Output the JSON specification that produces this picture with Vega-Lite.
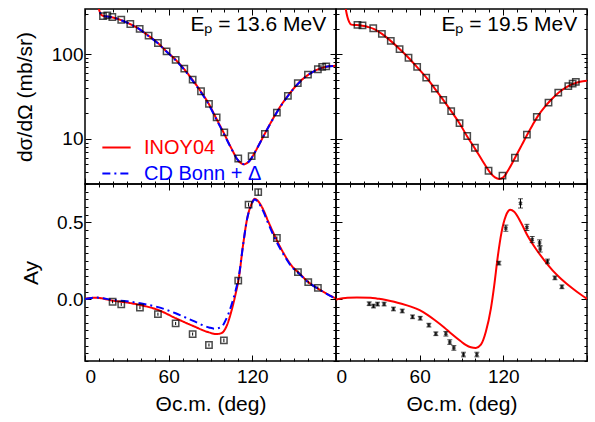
{
  "$schema": "https://vega.github.io/schema/vega-lite/v6.json",
  "padding": {"left": 13, "top": 7, "right": 2, "bottom": 5},
  "background": "white",
  "datasets": {
    "labels": [{"p":"TL","label":"Eₚ = 13.6 MeV"},{"p":"TR","label":"Eₚ = 19.5 MeV"}],
    "pts": [
      {"p":"TL","t":12.9,"v":283},{"p":"TL","t":16.0,"v":288},{"p":"TL","t":19.6,"v":276},{"p":"TL","t":26.0,"v":256},{"p":"TL","t":32.5,"v":228},{"p":"TL","t":39.2,"v":200},{"p":"TL","t":45.6,"v":166},{"p":"TL","t":52.3,"v":136},{"p":"TL","t":58.5,"v":108},{"p":"TL","t":65.0,"v":86},{"p":"TL","t":71.2,"v":67.6},{"p":"TL","t":77.2,"v":50},{"p":"TL","t":83.2,"v":36.5},{"p":"TL","t":88.9,"v":25.9},{"p":"TL","t":94.4,"v":17.9},{"p":"TL","t":99.9,"v":11.9},{"p":"TL","t":109.9,"v":5.85},{"p":"TL","t":119.5,"v":6.25},{"p":"TL","t":129.0,"v":11.4},{"p":"TL","t":137.6,"v":20.4},{"p":"TL","t":145.5,"v":32.2},{"p":"TL","t":152.6,"v":45.5},{"p":"TL","t":159.9,"v":57.5},{"p":"TL","t":167.0,"v":66.5},{"p":"TL","t":170.1,"v":70.8},{"p":"TL","t":173.0,"v":72},
      {"p":"TR","t":15.4,"v":223},{"p":"TR","t":19.0,"v":220},{"p":"TR","t":26.7,"v":203},{"p":"TR","t":32.9,"v":174},{"p":"TR","t":39.3,"v":144},{"p":"TR","t":45.6,"v":115},{"p":"TR","t":52.0,"v":91},{"p":"TR","t":58.2,"v":70.8},{"p":"TR","t":64.7,"v":53},{"p":"TR","t":70.9,"v":39.3},{"p":"TR","t":76.9,"v":28.9},{"p":"TR","t":82.6,"v":21.2},{"p":"TR","t":88.6,"v":15.3},{"p":"TR","t":94.1,"v":10.8},{"p":"TR","t":99.6,"v":7.83},{"p":"TR","t":109.4,"v":4.19},{"p":"TR","t":119.4,"v":3.66},{"p":"TR","t":128.3,"v":5.97},{"p":"TR","t":136.9,"v":11.2},{"p":"TR","t":144.0,"v":18.2},{"p":"TR","t":152.4,"v":26.8},{"p":"TR","t":159.4,"v":35.2},{"p":"TR","t":166.6,"v":41.9},{"p":"TR","t":169.7,"v":45},{"p":"TR","t":172.0,"v":47.1},
      {"p":"BL","t":19.8,"v":-0.015,"lo":-0.025,"hi":-0.005},{"p":"BL","t":26.0,"v":-0.032,"lo":-0.042,"hi":-0.022},{"p":"BL","t":39.4,"v":-0.053,"lo":-0.063,"hi":-0.043},{"p":"BL","t":52.3,"v":-0.096,"lo":-0.106,"hi":-0.086},{"p":"BL","t":65.0,"v":-0.156,"lo":-0.166,"hi":-0.146},{"p":"BL","t":77.2,"v":-0.225,"lo":-0.235,"hi":-0.215},{"p":"BL","t":88.9,"v":-0.296,"lo":-0.306,"hi":-0.286},{"p":"BL","t":99.6,"v":-0.266,"lo":-0.278,"hi":-0.254},{"p":"BL","t":109.9,"v":0.122,"lo":0.107,"hi":0.137},{"p":"BL","t":117.3,"v":0.616,"lo":0.603,"hi":0.629},{"p":"BL","t":124.2,"v":0.697,"lo":0.677,"hi":0.717},{"p":"BL","t":137.6,"v":0.399,"lo":0.389,"hi":0.409},{"p":"BL","t":152.7,"v":0.178,"lo":0.168,"hi":0.188},{"p":"BL","t":160.1,"v":0.112,"lo":0.102,"hi":0.122},{"p":"BL","t":167.0,"v":0.075,"lo":0.065,"hi":0.085},
      {"p":"BR","t":23.8,"v":-0.028,"lo":-0.040,"hi":-0.016},{"p":"BR","t":26.9,"v":-0.043,"lo":-0.055,"hi":-0.031},{"p":"BR","t":29.8,"v":-0.030,"lo":-0.042,"hi":-0.018},{"p":"BR","t":34.5,"v":-0.030,"lo":-0.042,"hi":-0.018},{"p":"BR","t":41.2,"v":-0.062,"lo":-0.074,"hi":-0.050},{"p":"BR","t":47.5,"v":-0.075,"lo":-0.087,"hi":-0.063},{"p":"BR","t":54.9,"v":-0.113,"lo":-0.125,"hi":-0.101},{"p":"BR","t":60.4,"v":-0.122,"lo":-0.134,"hi":-0.110},{"p":"BR","t":66.6,"v":-0.167,"lo":-0.179,"hi":-0.155},{"p":"BR","t":71.6,"v":-0.223,"lo":-0.235,"hi":-0.211},{"p":"BR","t":78.8,"v":-0.223,"lo":-0.238,"hi":-0.208},{"p":"BR","t":81.6,"v":-0.277,"lo":-0.292,"hi":-0.262},{"p":"BR","t":84.5,"v":-0.315,"lo":-0.330,"hi":-0.300},{"p":"BR","t":91.4,"v":-0.358,"lo":-0.373,"hi":-0.343},{"p":"BR","t":101.0,"v":-0.358,"lo":-0.373,"hi":-0.343},{"p":"BR","t":116.8,"v":0.236,"lo":0.224,"hi":0.248},{"p":"BR","t":121.8,"v":0.463,"lo":0.443,"hi":0.483},{"p":"BR","t":132.3,"v":0.624,"lo":0.594,"hi":0.654},{"p":"BR","t":136.9,"v":0.468,"lo":0.448,"hi":0.488},{"p":"BR","t":140.7,"v":0.389,"lo":0.369,"hi":0.409},{"p":"BR","t":146.0,"v":0.367,"lo":0.347,"hi":0.387},{"p":"BR","t":146.4,"v":0.328,"lo":0.308,"hi":0.348},{"p":"BR","t":151.7,"v":0.247,"lo":0.232,"hi":0.262},{"p":"BR","t":157.0,"v":0.140,"lo":0.128,"hi":0.152},{"p":"BR","t":162.0,"v":0.082,"lo":0.070,"hi":0.094}
    ],
    "curves": [
      {"p":"TL","m":"INOY04","t":0,"v":3000},{"p":"TL","m":"INOY04","t":5,"v":900},{"p":"TL","m":"INOY04","t":8,"v":480},{"p":"TL","m":"INOY04","t":10,"v":340},{"p":"TL","m":"INOY04","t":12,"v":290},{"p":"TL","m":"INOY04","t":14,"v":282},{"p":"TL","m":"INOY04","t":17,"v":278},{"p":"TL","m":"INOY04","t":20,"v":272},{"p":"TL","m":"INOY04","t":26,"v":253},{"p":"TL","m":"INOY04","t":32,"v":229},{"p":"TL","m":"INOY04","t":39,"v":198},{"p":"TL","m":"INOY04","t":45,"v":168},{"p":"TL","m":"INOY04","t":52,"v":137},{"p":"TL","m":"INOY04","t":58,"v":110},{"p":"TL","m":"INOY04","t":65,"v":86},{"p":"TL","m":"INOY04","t":71,"v":67},{"p":"TL","m":"INOY04","t":77,"v":50},{"p":"TL","m":"INOY04","t":83,"v":36.5},{"p":"TL","m":"INOY04","t":89,"v":25.5},{"p":"TL","m":"INOY04","t":94,"v":17.6},{"p":"TL","m":"INOY04","t":100,"v":11.3},{"p":"TL","m":"INOY04","t":105,"v":7.7},{"p":"TL","m":"INOY04","t":110,"v":5.5},{"p":"TL","m":"INOY04","t":114,"v":5.0},{"p":"TL","m":"INOY04","t":118,"v":5.5},{"p":"TL","m":"INOY04","t":122,"v":7.0},{"p":"TL","m":"INOY04","t":126,"v":9.3},{"p":"TL","m":"INOY04","t":130,"v":12.4},{"p":"TL","m":"INOY04","t":135,"v":17.5},{"p":"TL","m":"INOY04","t":140,"v":24},{"p":"TL","m":"INOY04","t":145,"v":31.5},{"p":"TL","m":"INOY04","t":150,"v":40},{"p":"TL","m":"INOY04","t":155,"v":49},{"p":"TL","m":"INOY04","t":160,"v":57},{"p":"TL","m":"INOY04","t":165,"v":64},{"p":"TL","m":"INOY04","t":170,"v":69},{"p":"TL","m":"INOY04","t":175,"v":72},{"p":"TL","m":"INOY04","t":180,"v":73},
      {"p":"TL","m":"CD Bonn + Δ","t":0,"v":3000},{"p":"TL","m":"CD Bonn + Δ","t":5,"v":900},{"p":"TL","m":"CD Bonn + Δ","t":8,"v":480},{"p":"TL","m":"CD Bonn + Δ","t":10,"v":340},{"p":"TL","m":"CD Bonn + Δ","t":12,"v":290},{"p":"TL","m":"CD Bonn + Δ","t":14,"v":282},{"p":"TL","m":"CD Bonn + Δ","t":17,"v":278},{"p":"TL","m":"CD Bonn + Δ","t":20,"v":272},{"p":"TL","m":"CD Bonn + Δ","t":26,"v":253},{"p":"TL","m":"CD Bonn + Δ","t":32,"v":229},{"p":"TL","m":"CD Bonn + Δ","t":39,"v":198},{"p":"TL","m":"CD Bonn + Δ","t":45,"v":167},{"p":"TL","m":"CD Bonn + Δ","t":52,"v":136},{"p":"TL","m":"CD Bonn + Δ","t":58,"v":109},{"p":"TL","m":"CD Bonn + Δ","t":65,"v":85},{"p":"TL","m":"CD Bonn + Δ","t":71,"v":66},{"p":"TL","m":"CD Bonn + Δ","t":77,"v":49},{"p":"TL","m":"CD Bonn + Δ","t":83,"v":35.8},{"p":"TL","m":"CD Bonn + Δ","t":89,"v":25},{"p":"TL","m":"CD Bonn + Δ","t":94,"v":17.2},{"p":"TL","m":"CD Bonn + Δ","t":100,"v":11.1},{"p":"TL","m":"CD Bonn + Δ","t":105,"v":7.6},{"p":"TL","m":"CD Bonn + Δ","t":110,"v":5.5},{"p":"TL","m":"CD Bonn + Δ","t":114,"v":5.0},{"p":"TL","m":"CD Bonn + Δ","t":118,"v":5.5},{"p":"TL","m":"CD Bonn + Δ","t":122,"v":7.0},{"p":"TL","m":"CD Bonn + Δ","t":126,"v":9.3},{"p":"TL","m":"CD Bonn + Δ","t":130,"v":12.4},{"p":"TL","m":"CD Bonn + Δ","t":135,"v":17.4},{"p":"TL","m":"CD Bonn + Δ","t":140,"v":23.8},{"p":"TL","m":"CD Bonn + Δ","t":145,"v":31.2},{"p":"TL","m":"CD Bonn + Δ","t":150,"v":39.8},{"p":"TL","m":"CD Bonn + Δ","t":155,"v":48.8},{"p":"TL","m":"CD Bonn + Δ","t":160,"v":57},{"p":"TL","m":"CD Bonn + Δ","t":165,"v":64},{"p":"TL","m":"CD Bonn + Δ","t":170,"v":69},{"p":"TL","m":"CD Bonn + Δ","t":175,"v":72},{"p":"TL","m":"CD Bonn + Δ","t":180,"v":73},
      {"p":"TR","m":"INOY04","t":0,"v":5000},{"p":"TR","m":"INOY04","t":5,"v":600},{"p":"TR","m":"INOY04","t":7,"v":343},{"p":"TR","m":"INOY04","t":8.2,"v":276},{"p":"TR","m":"INOY04","t":9.5,"v":240},{"p":"TR","m":"INOY04","t":11,"v":224},{"p":"TR","m":"INOY04","t":13,"v":222},{"p":"TR","m":"INOY04","t":15,"v":222},{"p":"TR","m":"INOY04","t":19,"v":217},{"p":"TR","m":"INOY04","t":23,"v":210},{"p":"TR","m":"INOY04","t":27,"v":200},{"p":"TR","m":"INOY04","t":33,"v":174},{"p":"TR","m":"INOY04","t":39,"v":145},{"p":"TR","m":"INOY04","t":46,"v":114},{"p":"TR","m":"INOY04","t":52,"v":91},{"p":"TR","m":"INOY04","t":58,"v":71},{"p":"TR","m":"INOY04","t":65,"v":52.5},{"p":"TR","m":"INOY04","t":71,"v":39},{"p":"TR","m":"INOY04","t":77,"v":28.7},{"p":"TR","m":"INOY04","t":83,"v":20.8},{"p":"TR","m":"INOY04","t":89,"v":14.9},{"p":"TR","m":"INOY04","t":94,"v":10.7},{"p":"TR","m":"INOY04","t":100,"v":7.5},{"p":"TR","m":"INOY04","t":105,"v":5.5},{"p":"TR","m":"INOY04","t":110,"v":4.1},{"p":"TR","m":"INOY04","t":114,"v":3.5},{"p":"TR","m":"INOY04","t":117,"v":3.35},{"p":"TR","m":"INOY04","t":120,"v":3.5},{"p":"TR","m":"INOY04","t":124,"v":4.4},{"p":"TR","m":"INOY04","t":128,"v":5.8},{"p":"TR","m":"INOY04","t":133,"v":8.3},{"p":"TR","m":"INOY04","t":137,"v":11.1},{"p":"TR","m":"INOY04","t":141,"v":14.6},{"p":"TR","m":"INOY04","t":145,"v":18.8},{"p":"TR","m":"INOY04","t":150,"v":24.2},{"p":"TR","m":"INOY04","t":155,"v":29.8},{"p":"TR","m":"INOY04","t":160,"v":35.5},{"p":"TR","m":"INOY04","t":165,"v":40.5},{"p":"TR","m":"INOY04","t":170,"v":44.6},{"p":"TR","m":"INOY04","t":175,"v":47.3},{"p":"TR","m":"INOY04","t":180,"v":48.5},
      {"p":"BL","m":"INOY04","t":0,"v":0.005},{"p":"BL","m":"INOY04","t":8,"v":0.011},{"p":"BL","m":"INOY04","t":20,"v":-0.008},{"p":"BL","m":"INOY04","t":30,"v":-0.02},{"p":"BL","m":"INOY04","t":39.4,"v":-0.036},{"p":"BL","m":"INOY04","t":52.4,"v":-0.068},{"p":"BL","m":"INOY04","t":65,"v":-0.122},{"p":"BL","m":"INOY04","t":77.2,"v":-0.171},{"p":"BL","m":"INOY04","t":88.9,"v":-0.214},{"p":"BL","m":"INOY04","t":94.2,"v":-0.225},{"p":"BL","m":"INOY04","t":97.8,"v":-0.219},{"p":"BL","m":"INOY04","t":101.4,"v":-0.176},{"p":"BL","m":"INOY04","t":104.9,"v":-0.079},{"p":"BL","m":"INOY04","t":107.8,"v":0.028},{"p":"BL","m":"INOY04","t":110.4,"v":0.144},{"p":"BL","m":"INOY04","t":113.3,"v":0.35},{"p":"BL","m":"INOY04","t":116.2,"v":0.521},{"p":"BL","m":"INOY04","t":119.3,"v":0.618},{"p":"BL","m":"INOY04","t":121.7,"v":0.654},{"p":"BL","m":"INOY04","t":124.1,"v":0.639},{"p":"BL","m":"INOY04","t":127.7,"v":0.586},{"p":"BL","m":"INOY04","t":131.2,"v":0.511},{"p":"BL","m":"INOY04","t":136,"v":0.414},{"p":"BL","m":"INOY04","t":142,"v":0.307},{"p":"BL","m":"INOY04","t":148,"v":0.221},{"p":"BL","m":"INOY04","t":154,"v":0.167},{"p":"BL","m":"INOY04","t":160,"v":0.114},{"p":"BL","m":"INOY04","t":167,"v":0.071},{"p":"BL","m":"INOY04","t":173,"v":0.039},{"p":"BL","m":"INOY04","t":180,"v":0.006},
      {"p":"BL","m":"CD Bonn + Δ","t":0,"v":0.002},{"p":"BL","m":"CD Bonn + Δ","t":8,"v":0.012},{"p":"BL","m":"CD Bonn + Δ","t":20,"v":-0.003},{"p":"BL","m":"CD Bonn + Δ","t":30,"v":-0.012},{"p":"BL","m":"CD Bonn + Δ","t":39.4,"v":-0.025},{"p":"BL","m":"CD Bonn + Δ","t":52.4,"v":-0.05},{"p":"BL","m":"CD Bonn + Δ","t":65,"v":-0.09},{"p":"BL","m":"CD Bonn + Δ","t":77.2,"v":-0.138},{"p":"BL","m":"CD Bonn + Δ","t":88.9,"v":-0.182},{"p":"BL","m":"CD Bonn + Δ","t":93,"v":-0.19},{"p":"BL","m":"CD Bonn + Δ","t":97.8,"v":-0.178},{"p":"BL","m":"CD Bonn + Δ","t":101.4,"v":-0.125},{"p":"BL","m":"CD Bonn + Δ","t":104.9,"v":-0.04},{"p":"BL","m":"CD Bonn + Δ","t":107.8,"v":0.05},{"p":"BL","m":"CD Bonn + Δ","t":110.4,"v":0.155},{"p":"BL","m":"CD Bonn + Δ","t":113.3,"v":0.35},{"p":"BL","m":"CD Bonn + Δ","t":116.2,"v":0.52},{"p":"BL","m":"CD Bonn + Δ","t":119.3,"v":0.615},{"p":"BL","m":"CD Bonn + Δ","t":121.7,"v":0.65},{"p":"BL","m":"CD Bonn + Δ","t":124.1,"v":0.632},{"p":"BL","m":"CD Bonn + Δ","t":127.7,"v":0.575},{"p":"BL","m":"CD Bonn + Δ","t":131.2,"v":0.498},{"p":"BL","m":"CD Bonn + Δ","t":136,"v":0.4},{"p":"BL","m":"CD Bonn + Δ","t":142,"v":0.298},{"p":"BL","m":"CD Bonn + Δ","t":148,"v":0.215},{"p":"BL","m":"CD Bonn + Δ","t":154,"v":0.163},{"p":"BL","m":"CD Bonn + Δ","t":160,"v":0.112},{"p":"BL","m":"CD Bonn + Δ","t":167,"v":0.07},{"p":"BL","m":"CD Bonn + Δ","t":173,"v":0.038},{"p":"BL","m":"CD Bonn + Δ","t":180,"v":0.004},
      {"p":"BR","m":"INOY04","t":0,"v":0.0},{"p":"BR","m":"INOY04","t":8.2,"v":0.011},{"p":"BR","m":"INOY04","t":15,"v":0.012},{"p":"BR","m":"INOY04","t":24.8,"v":0.011},{"p":"BR","m":"INOY04","t":29.8,"v":0.005},{"p":"BR","m":"INOY04","t":35,"v":-0.002},{"p":"BR","m":"INOY04","t":41.7,"v":-0.015},{"p":"BR","m":"INOY04","t":47,"v":-0.028},{"p":"BR","m":"INOY04","t":53.7,"v":-0.047},{"p":"BR","m":"INOY04","t":60,"v":-0.07},{"p":"BR","m":"INOY04","t":65.6,"v":-0.1},{"p":"BR","m":"INOY04","t":71,"v":-0.135},{"p":"BR","m":"INOY04","t":77.6,"v":-0.182},{"p":"BR","m":"INOY04","t":83,"v":-0.225},{"p":"BR","m":"INOY04","t":89.5,"v":-0.272},{"p":"BR","m":"INOY04","t":93,"v":-0.295},{"p":"BR","m":"INOY04","t":96.7,"v":-0.311},{"p":"BR","m":"INOY04","t":100.3,"v":-0.315},{"p":"BR","m":"INOY04","t":103.9,"v":-0.294},{"p":"BR","m":"INOY04","t":107.5,"v":-0.208},{"p":"BR","m":"INOY04","t":111.1,"v":-0.058},{"p":"BR","m":"INOY04","t":113.5,"v":0.093},{"p":"BR","m":"INOY04","t":115.8,"v":0.264},{"p":"BR","m":"INOY04","t":118.7,"v":0.436},{"p":"BR","m":"INOY04","t":121.8,"v":0.543},{"p":"BR","m":"INOY04","t":124.9,"v":0.582},{"p":"BR","m":"INOY04","t":127.8,"v":0.569},{"p":"BR","m":"INOY04","t":132.6,"v":0.5},{"p":"BR","m":"INOY04","t":137.4,"v":0.414},{"p":"BR","m":"INOY04","t":143.4,"v":0.328},{"p":"BR","m":"INOY04","t":149.4,"v":0.254},{"p":"BR","m":"INOY04","t":155.3,"v":0.189},{"p":"BR","m":"INOY04","t":161.3,"v":0.135},{"p":"BR","m":"INOY04","t":169.7,"v":0.071},{"p":"BR","m":"INOY04","t":175,"v":0.035},{"p":"BR","m":"INOY04","t":180,"v":0.004}
    ]
  },
  "config": {
    "view": {"stroke": "black", "strokeWidth": 1.5},
    "axis": {"grid": false, "domain": false, "tickColor": "black", "tickWidth": 1, "labelFont": "Liberation Sans", "labelFontSize": 19, "labelColor": "black", "titleFont": "Liberation Sans", "titleFontSize": 21, "titleFontWeight": "normal", "titleColor": "black"},
    "legend": {"padding": 0}
  },
  "columns": 2,
  "spacing": 0,
  "bounds": "flush",
  "resolve": {"scale": {"color": "independent", "strokeDash": "independent"}, "legend": {"color": "independent", "strokeDash": "independent"}},
  "concat": [
    {
      "width": 251, "height": 175,
      "layer": [
        {
          "data": {"name": "curves"},
          "transform": [{"filter": "datum.p == 'TL'"}],
          "mark": {"type": "line", "clip": true, "strokeWidth": 2, "interpolate": "monotone"},
          "encoding": {
            "x": {"field": "t", "type": "quantitative", "scale": {"domain": [0, 180], "nice": false},
              "axis": {"orient": "bottom", "labels": false, "title": null, "values": [0,10,20,30,40,50,60,70,80,90,100,110,120,130,140,150,160,170,180], "tickSize": {"condition": {"test": "datum.value % 60 == 0", "value": -6}, "value": -3}}},
            "y": {"field": "v", "type": "quantitative", "scale": {"type": "log", "domain": [2.92, 343], "nice": false},
              "axis": {"orient": "left", "title": "dσ/dΩ (mb/sr)", "titlePadding": 16, "values": [3,4,5,6,7,8,9,10,20,30,40,50,60,70,80,90,100,200,300], "labelExpr": "datum.value == 10 ? '10' : datum.value == 100 ? '100' : ''", "labelPadding": 8, "tickSize": {"condition": {"test": "datum.value == 10 || datum.value == 100", "value": -6}, "value": -3}}},
            "color": {"field": "m", "type": "nominal", "scale": {"domain": ["INOY04", "CD Bonn + Δ"], "range": ["#ff0000", "#0000ff"]},
              "legend": {"orient": "none", "legendX": 16, "legendY": 123, "title": null, "symbolType": "stroke", "symbolSize": 800, "symbolStrokeWidth": 2, "labelFont": "Liberation Sans", "labelFontSize": 20, "labelOffset": 12, "rowPadding": 0,
                "encode": {"labels": {"update": {"fill": {"signal": "datum.value == 'INOY04' ? '#ff0000' : '#0000ff'"}}}}}},
            "strokeDash": {"field": "m", "type": "nominal", "scale": {"domain": ["INOY04", "CD Bonn + Δ"], "range": [[1, 0], [8, 4, 2, 4]]},
              "legend": {"orient": "none", "legendX": 16, "legendY": 123, "title": null, "symbolType": "stroke", "symbolSize": 800, "symbolStrokeWidth": 2, "labelFont": "Liberation Sans", "labelFontSize": 20, "labelOffset": 12, "rowPadding": 0,
                "encode": {"labels": {"update": {"fill": {"signal": "datum.value == 'INOY04' ? '#ff0000' : '#0000ff'"}}}}}}
          }
        },
        {
          "data": {"name": "pts"},
          "transform": [{"filter": "datum.p == 'TL'"}],
          "mark": {"type": "point", "shape": "square", "filled": false, "stroke": "black", "strokeWidth": 1.5, "size": 40},
          "encoding": {
            "x": {"field": "t", "type": "quantitative", "scale": {"domain": [0, 180], "nice": false},
              "axis": {"orient": "top", "labels": false, "title": null, "values": [0,10,20,30,40,50,60,70,80,90,100,110,120,130,140,150,160,170,180], "tickSize": {"condition": {"test": "datum.value % 60 == 0", "value": -6}, "value": -3}}},
            "y": {"field": "v", "type": "quantitative", "scale": {"type": "log", "domain": [2.92, 343], "nice": false},
              "axis": {"orient": "right", "labels": false, "title": null, "values": [3,4,5,6,7,8,9,10,20,30,40,50,60,70,80,90,100,200,300], "tickSize": {"condition": {"test": "datum.value == 10 || datum.value == 100", "value": -6}, "value": -3}}}
          }
        },
        {
          "data": {"name": "labels"},
          "transform": [{"filter": "datum.p == 'TL'"}],
          "mark": {"type": "text", "align": "right", "baseline": "alphabetic", "font": "Liberation Sans", "fontSize": 21, "color": "black"},
          "encoding": {
            "text": {"field": "label"},
            "x": {"datum": 173, "type": "quantitative", "scale": {"domain": [0, 180], "nice": false}, "axis": null},
            "y": {"datum": 188, "type": "quantitative", "scale": {"type": "log", "domain": [2.92, 343], "nice": false}, "axis": null}
          }
        }
      ],
      "resolve": {"axis": {"x": "independent", "y": "independent"}}
    },
    {
      "width": 251, "height": 175,
      "layer": [
        {
          "data": {"name": "curves"},
          "transform": [{"filter": "datum.p == 'TR'"}],
          "mark": {"type": "line", "clip": true, "strokeWidth": 2, "interpolate": "monotone", "color": "#ff0000"},
          "encoding": {
            "x": {"field": "t", "type": "quantitative", "scale": {"domain": [0, 180], "nice": false},
              "axis": {"orient": "bottom", "labels": false, "title": null, "values": [0,10,20,30,40,50,60,70,80,90,100,110,120,130,140,150,160,170,180], "tickSize": {"condition": {"test": "datum.value % 60 == 0", "value": -6}, "value": -3}}},
            "y": {"field": "v", "type": "quantitative", "scale": {"type": "log", "domain": [2.92, 343], "nice": false},
              "axis": {"orient": "left", "labels": false, "title": null, "values": [3,4,5,6,7,8,9,10,20,30,40,50,60,70,80,90,100,200,300], "tickSize": {"condition": {"test": "datum.value == 10 || datum.value == 100", "value": -6}, "value": -3}}}
          }
        },
        {
          "data": {"name": "pts"},
          "transform": [{"filter": "datum.p == 'TR'"}],
          "mark": {"type": "point", "shape": "square", "filled": false, "stroke": "black", "strokeWidth": 1.5, "size": 40},
          "encoding": {
            "x": {"field": "t", "type": "quantitative", "scale": {"domain": [0, 180], "nice": false},
              "axis": {"orient": "top", "labels": false, "title": null, "values": [0,10,20,30,40,50,60,70,80,90,100,110,120,130,140,150,160,170,180], "tickSize": {"condition": {"test": "datum.value % 60 == 0", "value": -6}, "value": -3}}},
            "y": {"field": "v", "type": "quantitative", "scale": {"type": "log", "domain": [2.92, 343], "nice": false},
              "axis": {"orient": "right", "labels": false, "title": null, "values": [3,4,5,6,7,8,9,10,20,30,40,50,60,70,80,90,100,200,300], "tickSize": {"condition": {"test": "datum.value == 10 || datum.value == 100", "value": -6}, "value": -3}}}
          }
        },
        {
          "data": {"name": "labels"},
          "transform": [{"filter": "datum.p == 'TR'"}],
          "mark": {"type": "text", "align": "right", "baseline": "alphabetic", "font": "Liberation Sans", "fontSize": 21, "color": "black"},
          "encoding": {
            "text": {"field": "label"},
            "x": {"datum": 173, "type": "quantitative", "scale": {"domain": [0, 180], "nice": false}, "axis": null},
            "y": {"datum": 188, "type": "quantitative", "scale": {"type": "log", "domain": [2.92, 343], "nice": false}, "axis": null}
          }
        }
      ],
      "resolve": {"axis": {"x": "independent", "y": "independent"}}
    },
    {
      "width": 251, "height": 177,
      "layer": [
        {
          "data": {"name": "curves"},
          "transform": [{"filter": "datum.p == 'BL'"}],
          "mark": {"type": "line", "clip": true, "strokeWidth": 2, "interpolate": "monotone"},
          "encoding": {
            "x": {"field": "t", "type": "quantitative", "scale": {"domain": [0, 180], "nice": false},
              "axis": {"orient": "bottom", "title": "Θc.m. (deg)", "titlePadding": 7, "values": [0,10,20,30,40,50,60,70,80,90,100,110,120,130,140,150,160,170,180], "labelExpr": "datum.value % 60 == 0 && datum.value < 180 ? datum.label : ''", "labelPadding": 12, "tickSize": {"condition": {"test": "datum.value % 60 == 0", "value": -6}, "value": -3}}},
            "y": {"field": "v", "type": "quantitative", "scale": {"domain": [-0.4, 0.75], "nice": false, "zero": false},
              "axis": {"orient": "left", "title": "Ay", "titlePadding": 15, "values": [-0.4,-0.35,-0.3,-0.25,-0.2,-0.15,-0.1,-0.05,0,0.05,0.1,0.15,0.2,0.25,0.3,0.35,0.4,0.45,0.5,0.55,0.6,0.65,0.7,0.75], "labelExpr": "datum.value == 0 ? '0.0' : datum.value == 0.5 ? '0.5' : ''", "labelPadding": 8, "tickSize": {"condition": {"test": "datum.value == 0 || datum.value == 0.5", "value": -6}, "value": -3}}},
            "color": {"field": "m", "type": "nominal", "scale": {"domain": ["INOY04", "CD Bonn + Δ"], "range": ["#ff0000", "#0000ff"]}, "legend": null},
            "strokeDash": {"field": "m", "type": "nominal", "scale": {"domain": ["INOY04", "CD Bonn + Δ"], "range": [[1, 0], [8, 4, 2, 4]]}, "legend": null}
          }
        },
        {
          "data": {"name": "pts"},
          "transform": [{"filter": "datum.p == 'BL'"}],
          "mark": {"type": "rule", "color": "black", "strokeWidth": 1},
          "encoding": {
            "x": {"field": "t", "type": "quantitative", "scale": {"domain": [0, 180], "nice": false}, "axis": null},
            "y": {"field": "lo", "type": "quantitative", "scale": {"domain": [-0.4, 0.75], "nice": false, "zero": false}, "axis": null},
            "y2": {"field": "hi"}
          }
        },
        {
          "data": {"name": "pts"},
          "transform": [{"filter": "datum.p == 'BL'"}],
          "mark": {"type": "point", "shape": "square", "filled": false, "stroke": "black", "strokeWidth": 1.5, "size": 40},
          "encoding": {
            "x": {"field": "t", "type": "quantitative", "scale": {"domain": [0, 180], "nice": false},
              "axis": {"orient": "top", "labels": false, "title": null, "values": [0,10,20,30,40,50,60,70,80,90,100,110,120,130,140,150,160,170,180], "tickSize": {"condition": {"test": "datum.value % 60 == 0", "value": -6}, "value": -3}}},
            "y": {"field": "v", "type": "quantitative", "scale": {"domain": [-0.4, 0.75], "nice": false, "zero": false},
              "axis": {"orient": "right", "labels": false, "title": null, "values": [-0.4,-0.35,-0.3,-0.25,-0.2,-0.15,-0.1,-0.05,0,0.05,0.1,0.15,0.2,0.25,0.3,0.35,0.4,0.45,0.5,0.55,0.6,0.65,0.7,0.75], "tickSize": {"condition": {"test": "datum.value == 0 || datum.value == 0.5", "value": -6}, "value": -3}}}
          }
        }
      ],
      "resolve": {"axis": {"x": "independent", "y": "independent"}}
    },
    {
      "width": 251, "height": 177,
      "layer": [
        {
          "data": {"name": "curves"},
          "transform": [{"filter": "datum.p == 'BR'"}],
          "mark": {"type": "line", "clip": true, "strokeWidth": 2, "interpolate": "monotone", "color": "#ff0000"},
          "encoding": {
            "x": {"field": "t", "type": "quantitative", "scale": {"domain": [0, 180], "nice": false},
              "axis": {"orient": "bottom", "title": "Θc.m. (deg)", "titlePadding": 7, "values": [0,10,20,30,40,50,60,70,80,90,100,110,120,130,140,150,160,170,180], "labelExpr": "datum.value % 60 == 0 && datum.value < 180 ? datum.label : ''", "labelPadding": 12, "tickSize": {"condition": {"test": "datum.value % 60 == 0", "value": -6}, "value": -3}}},
            "y": {"field": "v", "type": "quantitative", "scale": {"domain": [-0.4, 0.75], "nice": false, "zero": false},
              "axis": {"orient": "left", "labels": false, "title": null, "values": [-0.4,-0.35,-0.3,-0.25,-0.2,-0.15,-0.1,-0.05,0,0.05,0.1,0.15,0.2,0.25,0.3,0.35,0.4,0.45,0.5,0.55,0.6,0.65,0.7,0.75], "tickSize": {"condition": {"test": "datum.value == 0 || datum.value == 0.5", "value": -6}, "value": -3}}}
          }
        },
        {
          "data": {"name": "pts"},
          "transform": [{"filter": "datum.p == 'BR'"}],
          "mark": {"type": "errorbar", "ticks": {"size": 5, "color": "black"}, "rule": {"color": "black", "strokeWidth": 1}},
          "encoding": {
            "x": {"field": "t", "type": "quantitative", "scale": {"domain": [0, 180], "nice": false}, "axis": null},
            "y": {"field": "lo", "type": "quantitative", "scale": {"domain": [-0.4, 0.75], "nice": false, "zero": false}, "axis": null},
            "y2": {"field": "hi"}
          }
        },
        {
          "data": {"name": "pts"},
          "transform": [{"filter": "datum.p == 'BR'"}],
          "mark": {"type": "point", "shape": "cross", "angle": 45, "filled": true, "color": "black", "size": 18},
          "encoding": {
            "x": {"field": "t", "type": "quantitative", "scale": {"domain": [0, 180], "nice": false},
              "axis": {"orient": "top", "labels": false, "title": null, "values": [0,10,20,30,40,50,60,70,80,90,100,110,120,130,140,150,160,170,180], "tickSize": {"condition": {"test": "datum.value % 60 == 0", "value": -6}, "value": -3}}},
            "y": {"field": "v", "type": "quantitative", "scale": {"domain": [-0.4, 0.75], "nice": false, "zero": false},
              "axis": {"orient": "right", "labels": false, "title": null, "values": [-0.4,-0.35,-0.3,-0.25,-0.2,-0.15,-0.1,-0.05,0,0.05,0.1,0.15,0.2,0.25,0.3,0.35,0.4,0.45,0.5,0.55,0.6,0.65,0.7,0.75], "tickSize": {"condition": {"test": "datum.value == 0 || datum.value == 0.5", "value": -6}, "value": -3}}}
          }
        }
      ],
      "resolve": {"axis": {"x": "independent", "y": "independent"}}
    }
  ]
}
